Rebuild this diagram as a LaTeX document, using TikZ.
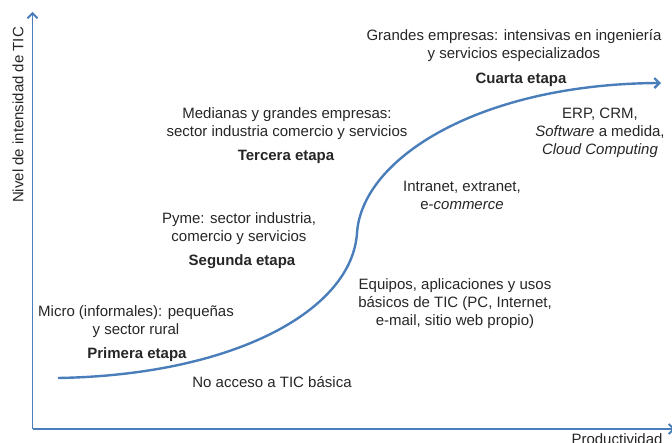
\documentclass[tikz,border=0pt]{standalone}
\usepackage{fontspec}
\setmainfont{Liberation Sans}
\usetikzlibrary{arrows.meta}

\definecolor{curveblue}{RGB}{74,126,187}
\definecolor{txtgray}{RGB}{38,38,38}

\begin{document}
\begin{tikzpicture}[x=1pt,y=-1pt,
    lbl/.style={text=txtgray,font=\fontsize{15}{18}\selectfont,align=center,inner sep=0pt},
    stage/.style={lbl,font=\fontsize{15}{18}\selectfont\bfseries},
    axis/.style={curveblue,line width=1.8pt,-{Straight Barb[length=5pt,width=10pt]}}]
    \useasboundingbox (0,0) rectangle (672,443);

    \coordinate (o) at (32.5,429);
    \coordinate (ytop) at (32.5,12);
    \coordinate (xend) at (675,429);
    \draw[axis] (o) -- (ytop);
    \draw[axis] (o) -- (xend);
    \node[lbl,rotate=90] (ylab) at (18,115) {Nivel de intensidad de TIC};
    \node[lbl] (xlab) at (617,439) {Productividad};

    \coordinate (cstart) at (58,378);
    \coordinate (cmid) at (357,233);
    \coordinate (cend) at (661,83);
    \draw[curveblue,line width=2.4pt,-{Straight Barb[length=5pt,width=10pt]}]
        (cstart) .. controls (235,375) and (352,310) .. (cmid)
        .. controls (362,158) and (480,84) .. (cend);

    \node[lbl] (micro) at (136,322) {Micro (informales): pequeñas\\y sector rural};
    \node[stage] (primera) at (137,355) {Primera etapa};
    \node[lbl] (noacc) at (272,382) {No acceso a TIC básica};

    \node[lbl] (pyme) at (239,229) {Pyme: sector industria,\\comercio y servicios};
    \node[stage] (segunda) at (242,262) {Segunda etapa};
    \node[lbl] (equipos) at (455,304) {Equipos, aplicaciones y usos\\básicos de TIC (PC, Internet,\\e-mail, sitio web propio)};

    \node[lbl] (medianas) at (287,124) {Medianas y grandes empresas:\\sector industria comercio y servicios};
    \node[stage] (tercera) at (286,157) {Tercera etapa};
    \node[lbl] (intranet) at (462,195) {Intranet, extranet,\\e-\textit{commerce}};

    \node[lbl] (grandes) at (514,46) {Grandes empresas: intensivas en ingeniería\\y servicios especializados};
    \node[stage] (cuarta) at (521,80) {Cuarta etapa};
    \node[lbl] (erp) at (600,133) {ERP, CRM,\\\textit{Software} a medida,\\\textit{Cloud Computing}};
\end{tikzpicture}
\end{document}
